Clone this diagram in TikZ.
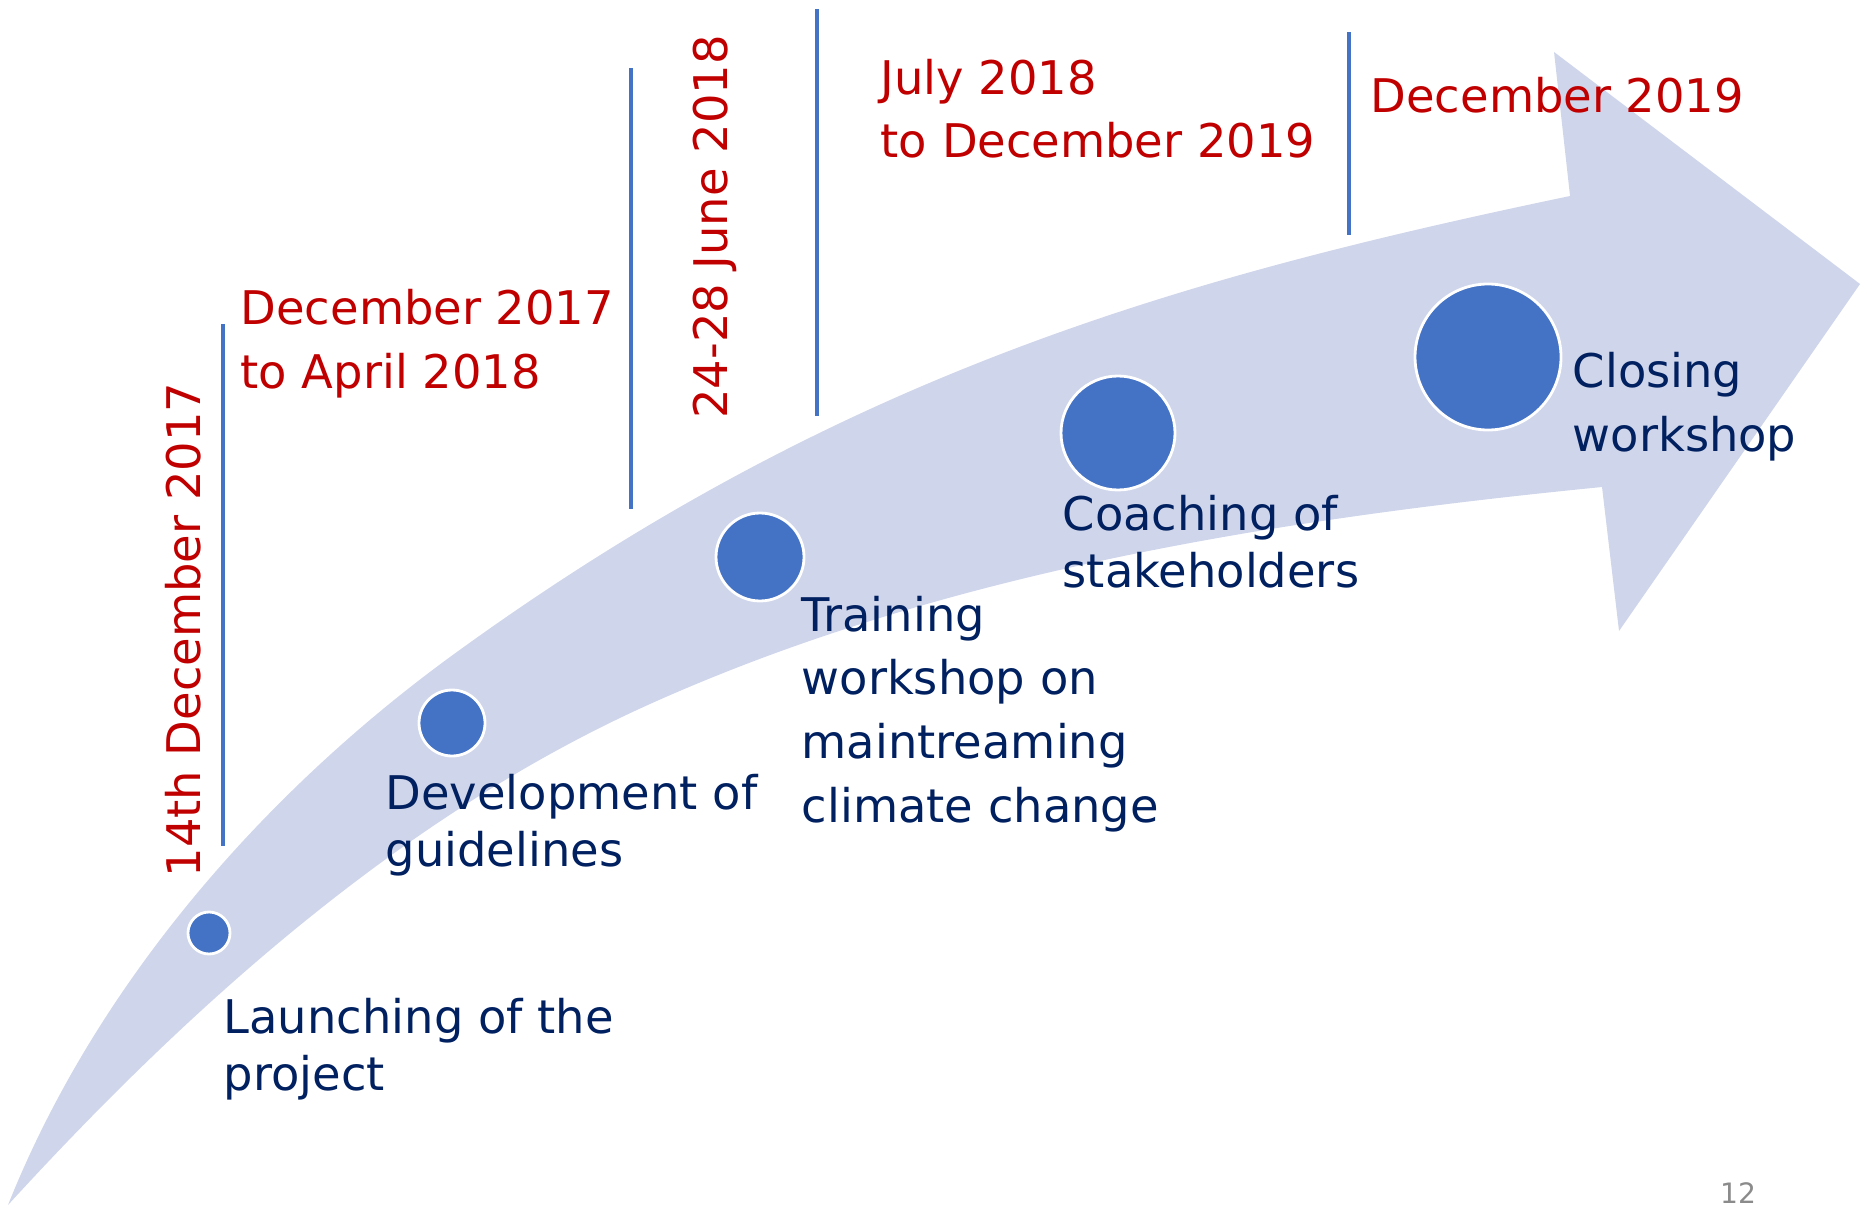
\documentclass[tikz,border=0pt]{standalone}
\usepackage{fontspec}
\setmainfont{DejaVu Sans}
\definecolor{bandblue}{HTML}{CFD5EA}
\definecolor{dotblue}{HTML}{4472C4}
\definecolor{datered}{HTML}{C00000}
\definecolor{stepnavy}{HTML}{002060}
\definecolor{pagegray}{HTML}{8B8B8B}
\tikzset{
  milestone/.style={circle,fill=dotblue,draw=white,line width=0.8pt,inner sep=0pt},
  datetext/.style={text=datered,font=\fontsize{13.2}{18.1}\selectfont,align=left,inner sep=0pt,anchor=base west},
  steptext/.style={text=stepnavy,font=\fontsize{13.2}{16.1}\selectfont,align=left,inner sep=0pt,anchor=base west},
  widestep/.style={steptext,font=\fontsize{13.2}{18.1}\selectfont},
  divider/.style={draw=dotblue,line width=1.3pt}
}
\begin{document}
\begin{tikzpicture}[x=0.1mm,y=-0.1mm]
\useasboundingbox (0,0) rectangle (1864,1206);
% the curved arrow
\fill[bandblue] (8,1205) .. controls (95,987) and (260,796) .. (450,657)
  .. controls (838,374) and (1178,278) .. (1570,196)
  -- (1554,52) -- (1860,284) -- (1619,631) -- (1602,487)
  .. controls (1279,519) and (946,571) .. (650,704)
  .. controls (403,815) and (191,1005) .. (8,1205) -- cycle;
% dividers
\draw[divider] (223,324) -- (223,846);
\draw[divider] (631,68) -- (631,509);
\draw[divider] (817,9) -- (817,416);
\draw[divider] (1349,32) -- (1349,235);
% milestones
\node[milestone,minimum size=4.2mm] (launch) at (209,933) {};
\node[milestone,minimum size=6.6mm] (guide) at (452,723) {};
\node[milestone,minimum size=8.8mm] (train) at (760,557) {};
\node[milestone,minimum size=11.4mm] (coach) at (1118,433) {};
\node[milestone,minimum size=14.6mm] (close) at (1488,357) {};
% step labels
\node[steptext] (launchtext) at (223,1090) {Launching of the\\project};
\node[steptext] (guidetext) at (385,866) {Development of\\guidelines};
\node[widestep] (traintext) at (801,822) {Training\\workshop on\\maintreaming\\climate change};
\node[steptext] (coachtext) at (1062,587) {Coaching of\\stakeholders};
\node[widestep] (closetext) at (1572,451) {Closing\\workshop};
% dates
\node[datetext,rotate=90,anchor=base] (launchdate) at (200,630) {14th December 2017};
\node[datetext] (guidedate) at (240,388) {December 2017\\to April 2018};
\node[datetext,rotate=90,anchor=base] (traindate) at (727,227) {24-28 June 2018};
\node[datetext] (coachdate) at (880,158) {July 2018\\to December 2019};
\node[datetext] (closedate) at (1370,113) {December 2019};
\node[text=pagegray,font=\fontsize{8}{10}\selectfont,inner sep=0pt,anchor=base] (pagenum) at (1738,1203) {12};
\end{tikzpicture}
\end{document}
